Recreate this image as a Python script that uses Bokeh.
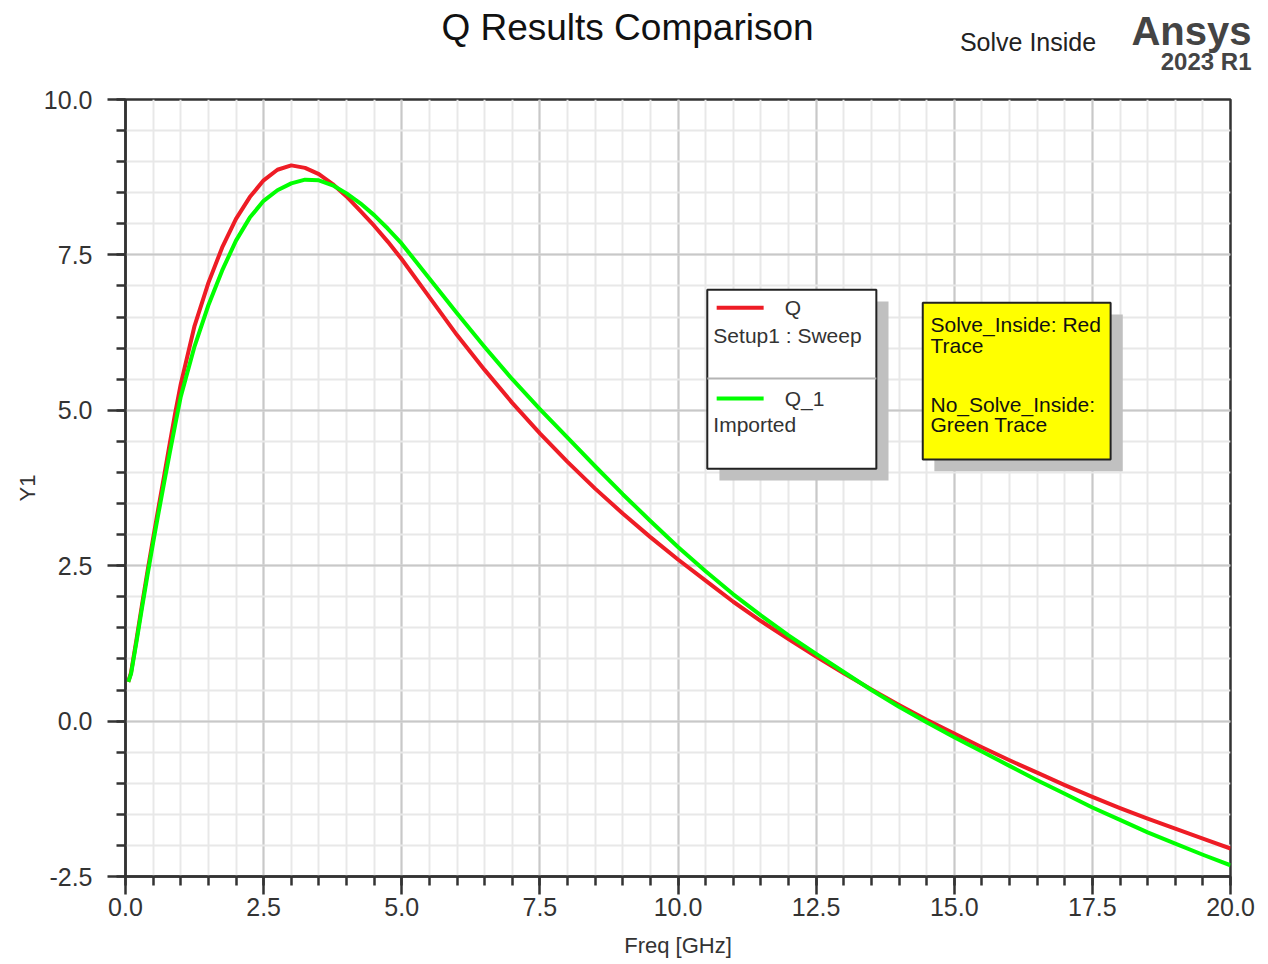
from bokeh.plotting import figure
from bokeh.layouts import column
from bokeh.models import FixedTicker, PrintfTickFormatter, Label, Range1d
from bokeh.embed import file_html
from bokeh.resources import INLINE

# ---------------- data ----------------
freq = [0.05, 0.1, 0.2, 0.3, 0.4, 0.5, 0.6, 0.7, 0.8, 0.9, 1.0, 1.25, 1.5, 1.75,
        2.0, 2.25, 2.5, 2.75, 3.0, 3.25, 3.5, 3.75, 4.0, 4.25, 4.5, 4.75, 5.0,
        5.5, 6.0, 6.5, 7.0, 7.5, 8.0, 8.5, 9.0, 9.5, 10.0, 10.5, 11.0, 11.5,
        12.0, 12.5, 13.0, 13.5, 14.0, 14.5, 15.0, 15.5, 16.0, 16.5, 17.0, 17.5,
        18.0, 18.5, 19.0, 19.5, 20.0]

q_solve_inside = [0.63, 0.78, 1.32, 1.88, 2.42, 2.94, 3.45, 3.95, 4.46, 4.96, 5.42,
                  6.36, 7.05, 7.62, 8.08, 8.43, 8.70, 8.87, 8.94, 8.90, 8.80, 8.64,
                  8.44, 8.21, 7.97, 7.71, 7.43, 6.82, 6.21, 5.65, 5.12, 4.63, 4.17,
                  3.74, 3.34, 2.96, 2.60, 2.26, 1.92, 1.61, 1.32, 1.04, 0.77, 0.51,
                  0.26, 0.02, -0.20, -0.42, -0.63, -0.83, -1.03, -1.22, -1.40,
                  -1.57, -1.73, -1.89, -2.05]

q_imported = [0.63, 0.76, 1.28, 1.83, 2.36, 2.87, 3.36, 3.84, 4.31, 4.77, 5.22,
              6.03, 6.69, 7.25, 7.73, 8.10, 8.37, 8.54, 8.65, 8.71, 8.70, 8.62,
              8.49, 8.33, 8.14, 7.92, 7.68, 7.12, 6.56, 6.02, 5.50, 5.02, 4.56,
              4.10, 3.65, 3.22, 2.80, 2.41, 2.04, 1.70, 1.38, 1.08, 0.79, 0.50,
              0.23, -0.02, -0.26, -0.49, -0.72, -0.95, -1.17, -1.39, -1.59, -1.79,
              -1.97, -2.15, -2.32]

x_major = [0.0, 2.5, 5.0, 7.5, 10.0, 12.5, 15.0, 17.5, 20.0]
x_minor = [i * 0.5 for i in range(41)]
y_major = [-2.5, 0.0, 2.5, 5.0, 7.5, 10.0]
y_minor = [-2.5 + i * 0.5 for i in range(26)]

title_text = "Q Results Comparison"
legend_names = ["Q", "Q_1"]
legend_sources = ["Setup1 : Sweep", "Imported"]
note_lines = ["Solve_Inside: Red", "Trace", "No_Solve_Inside:", "Green Trace"]

RED = "#ee1c25"
GREEN = "#00ff00"
FONT = "Liberation Sans"
DARK = "#333333"

W = 1260
HEAD_H = 75
FRAME_L, FRAME_R = 125, 1230

# ---------------- header strip (titles) ----------------
head = figure(width=W, height=HEAD_H, output_backend="svg", toolbar_location=None,
              x_range=Range1d(0, W), y_range=Range1d(HEAD_H, 0),
              x_axis_type=None, y_axis_type=None,
              min_border_left=0, min_border_right=0, min_border_top=0,
              min_border_bottom=0)
try:
    head.frame_align = False          # keep header frame full width
except Exception:
    head.x_range = Range1d(FRAME_L, FRAME_R)
head.outline_line_color = None
head.xgrid.visible = False
head.ygrid.visible = False
head.add_layout(Label(x=627, y=27, text=title_text, text_font=FONT,
                      text_font_size="37px", text_color="#111111", text_align="center",
                      text_baseline="middle"))
head.add_layout(Label(x=1031, y=41, text="Solve  Inside", text_font=FONT,
                      text_font_size="25px", text_color="#222222", text_align="center",
                      text_baseline="middle"))
head.add_layout(Label(x=1251, y=30, text="Ansys", text_font=FONT,
                      text_font_size="40px", text_font_style="bold", text_color="#444444",
                      text_align="right", text_baseline="middle"))
head.add_layout(Label(x=1251, y=61, text="2023 R1", text_font=FONT,
                      text_font_size="24px", text_font_style="bold", text_color="#444444",
                      text_align="right", text_baseline="middle"))

# ---------------- main plot ----------------
p = figure(width=W, height=960 - HEAD_H, output_backend="svg", toolbar_location=None,
           x_range=Range1d(0, 20), y_range=Range1d(-2.5, 10),
           min_border_left=FRAME_L, min_border_right=W - FRAME_R,
           min_border_top=99 - HEAD_H, min_border_bottom=84,
           background_fill_color="white", border_fill_color="white")

p.outline_line_color = DARK
p.outline_line_width = 2.5

for ax, maj, mn in ((p.xaxis[0], x_major, x_minor), (p.yaxis[0], y_major, y_minor)):
    ax.ticker = FixedTicker(ticks=maj, minor_ticks=mn)
    ax.formatter = PrintfTickFormatter(format="%.1f")
    ax.major_tick_out = 18
    ax.major_tick_in = 0
    ax.minor_tick_out = 9
    ax.minor_tick_in = 0
    ax.axis_line_color = DARK
    ax.axis_line_width = 2.5
    ax.major_tick_line_color = DARK
    ax.major_tick_line_width = 2.5
    ax.minor_tick_line_color = DARK
    ax.minor_tick_line_width = 2.5
    ax.major_label_text_font = FONT
    ax.major_label_text_font_size = "25px"
    ax.major_label_text_color = DARK
    ax.axis_label_text_font = FONT
    ax.axis_label_text_font_size = "22px"
    ax.axis_label_text_font_style = "normal"
    ax.axis_label_text_color = DARK

p.xaxis[0].axis_label = "Freq [GHz]"
p.xaxis[0].major_label_standoff = 3
p.xaxis[0].axis_label_standoff = 14
p.yaxis[0].axis_label = "Y1"
p.yaxis[0].major_label_standoff = 15
p.yaxis[0].axis_label_standoff = 1
p.yaxis[0].major_label_orientation = "horizontal"

for g in (p.xgrid[0], p.ygrid[0]):
    g.grid_line_color = "#c8c8c8"
    g.grid_line_width = 2
    g.minor_grid_line_color = "#e8e8e8"
    g.minor_grid_line_width = 2

# ---------------- curves ----------------
p.line(freq, q_solve_inside, line_color=RED, line_width=4, line_join="round")
p.line(freq, q_imported, line_color=GREEN, line_width=4, line_join="round")

# ---------------- legend box (drawn) ----------------
p.quad(left=[10.75], right=[13.81], top=[6.75], bottom=[3.87],
       fill_color="#c0c0c0", line_alpha=0)
p.quad(left=[10.53], right=[13.59], top=[6.94], bottom=[4.06],
       fill_color="white", line_color="#222222", line_width=2)
p.segment(x0=[10.53], y0=[5.51], x1=[13.59], y1=[5.51], line_color="#b4b4b4", line_width=2)
p.segment(x0=[10.70], y0=[6.65], x1=[11.55], y1=[6.65], line_color=RED, line_width=4)
p.segment(x0=[10.70], y0=[5.19], x1=[11.55], y1=[5.19], line_color=GREEN, line_width=4)

for name, yy in zip(legend_names, (6.65, 5.19)):
    p.add_layout(Label(x=11.93, y=yy, text=name, text_font=FONT, text_font_size="21px",
                       text_color=DARK, text_baseline="middle"))
for src, yy in zip(legend_sources, (6.20, 4.77)):
    p.add_layout(Label(x=10.64, y=yy, text=src, text_font=FONT, text_font_size="21px",
                       text_color=DARK, text_baseline="middle"))

# ---------------- yellow note ----------------
p.quad(left=[14.64], right=[18.05], top=[6.54], bottom=[4.02],
       fill_color="#c0c0c0", line_alpha=0)
p.quad(left=[14.43], right=[17.83], top=[6.73], bottom=[4.21],
       fill_color="#ffff00", line_color="#222222", line_width=2)
for txt, yy in zip(note_lines, (6.38, 6.04, 5.09, 4.77)):
    p.add_layout(Label(x=14.57, y=yy, text=txt, text_font=FONT, text_font_size="21px",
                       text_color="#111111", text_baseline="middle"))

layout = column(head, p, spacing=0)
open("out.html", "w").write(file_html(layout, INLINE))
